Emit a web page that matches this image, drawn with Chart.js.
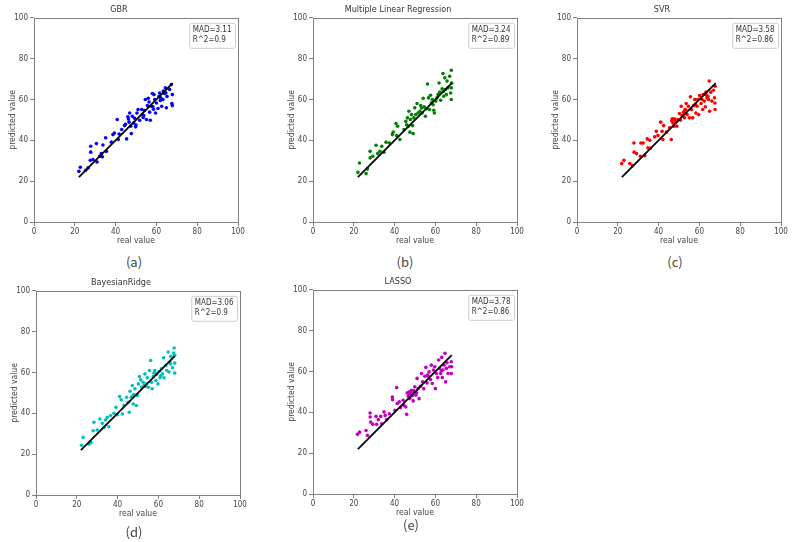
<!DOCTYPE html>
<html>
<head>
<meta charset="utf-8">
<script src="https://cdn.jsdelivr.net/npm/chart.js@4.4.1/dist/chart.umd.min.js"></script>
<style>
  body { margin: 0; background: #fff; width: 793px; height: 542px; overflow: hidden; position: relative; }
  .panel { position: absolute; }
  .cap { position: absolute; font-family: 'Noto Sans CJK JP', sans-serif; font-size: 13px; color: #444; transform: translate(-50%, -50%); white-space: nowrap; }
</style>
</head>
<body>
<canvas id="pa" class="panel" width="250" height="250" style="left:0px;top:0px"></canvas>
<canvas id="pb" class="panel" width="250" height="250" style="left:279px;top:0px"></canvas>
<canvas id="pc" class="panel" width="250" height="250" style="left:543px;top:0px"></canvas>
<canvas id="pd" class="panel" width="250" height="250" style="left:2px;top:273px"></canvas>
<canvas id="pe" class="panel" width="250" height="250" style="left:279px;top:272px"></canvas>
<div class="cap" style="left:134px;top:261px">(a)</div>
<div class="cap" style="left:405px;top:261px">(b)</div>
<div class="cap" style="left:675px;top:261px">(c)</div>
<div class="cap" style="left:134px;top:531px">(d)</div>
<div class="cap" style="left:411px;top:524px">(e)</div>
<script>
// axis ticks
const tickValues = [0, 20, 40, 60, 80, 100];
// reference line y = x
const lineX = [22, 68];
const lineY = [22, 68];

// GBR
const gbrReal = [22, 22.7, 25.3, 26.5, 27.6, 27.8, 27.8, 28.9, 30.6, 30.9, 32.2, 33, 33.8, 35.1, 35.5, 37.9, 38.7, 39.4, 40.8, 41.3,
  41.7, 43, 44.4, 45.4, 46, 46.6, 46.9, 47.4, 47.7, 48.2, 48.9, 49.3, 49.8, 50.5, 51, 51.8, 52.8, 53.1, 53.8, 54.2,
  54.6, 55.1, 55.6, 56, 56.7, 57, 57.5, 58, 58.3, 58.8, 59.2, 59.6, 60, 60.8, 61.3, 61.6, 62.1, 62.6, 63.2, 63.4,
  64, 64.4, 64.9, 65.2, 66.5, 67.3, 67.8, 67.8, 67.6, 46.3, 50, 53.5, 56.4, 61.9, 64.6, 33.5, 44.8, 58.6];
const gbrPred = [24.8, 26.8, 25.3, 26.5, 30.2, 37.1, 34.2, 30.6, 38.4, 29.4, 32.2, 33.5, 37.7, 41.2, 34.6, 39.1, 42.8, 43.6, 50.2, 40.4,
  43.1, 45.3, 47.2, 40.7, 51.5, 48.9, 53.4, 46.9, 43.3, 51.8, 48.5, 50.8, 46.6, 53.4, 55.1, 49.8, 55.1, 52.6, 52.1, 54.6,
  60, 50.2, 57, 60.6, 53.8, 49.8, 56.7, 62.9, 56.4, 62.4, 60, 53.4, 58.3, 55.6, 61.5, 63.2, 60.8, 56.7, 60, 64.1,
  62.9, 65.7, 55.9, 61.5, 64.9, 67.3, 62.4, 57, 58, 50.4, 47.5, 51.2, 58.8, 59.5, 63.3, 31.9, 47.8, 55.2];

// Multiple Linear Regression
const mlrReal = [22, 22.8, 26, 26.7, 28, 28, 29.3, 30.9, 31.7, 32.8, 33.7, 34.8, 35.8, 37.4, 38.9, 39.3, 40.7, 41, 41.5, 42.6,
  44.6, 45.5, 46.3, 46.7, 47, 47.5, 47.8, 48.3, 48.8, 49.1, 49.4, 49.9, 50.4, 51, 51.5, 52.4, 52.8, 53.5, 54, 54.5,
  55.1, 55.6, 56.1, 56.6, 57.1, 57.6, 58, 58.5, 59.2, 59.5, 60.2, 60.8, 61.3, 61.8, 62.1, 62.6, 63.3, 63.7, 64.1, 64.6,
  64.9, 65.4, 65.7, 66.2, 67, 67.8, 67.8, 67.8, 68, 67.5, 45.9, 53.2, 58.9, 63.9];
const mlrPred = [24.3, 28.9, 23.7, 26, 34.6, 31.4, 32.2, 37.6, 33.5, 34.6, 37.1, 34.2, 39.1, 38.7, 42.8, 44, 48.2, 42.3, 46.9, 40.4,
  45.3, 49.3, 51, 46.9, 54.2, 44, 50.2, 52.6, 47.2, 43.3, 51, 55.9, 52.6, 58, 53.4, 54.2, 57, 53.4, 60.6, 56.4,
  51.8, 55.4, 67.6, 60.8, 55.1, 62.1, 58.3, 60, 54.7, 53.4, 59.2, 60.8, 62.4, 68.1, 63.6, 59.6, 65.2, 72.7, 61.6, 70.6,
  64.9, 62.4, 69, 65.7, 71.4, 74.3, 65.7, 60, 68.1, 63.2, 47.6, 55.8, 57.4, 63.9];

// SVR
const svrReal = [21.9, 23, 25.9, 27.2, 27.9, 28, 29.2, 31.1, 31.3, 32.4, 33.2, 34.4, 34.8, 35.7, 36, 38.1, 38.9, 39.7, 41, 41.7,
  42.1, 42.5, 43.8, 45.4, 46.2, 46.7, 47, 47.5, 47.8, 48.3, 48.9, 49.4, 50.2, 50.7, 51.1, 51.5, 52.2, 52.7, 53.2, 53.5,
  54, 54.6, 55.1, 55.6, 56.1, 56.7, 57.2, 57.7, 58.3, 58.8, 59.2, 59.6, 60.1, 60.8, 61.3, 61.6, 61.9, 62.4, 62.9, 63.2,
  63.7, 64.2, 64.5, 64.8, 65, 65.6, 66.1, 66.9, 67.4, 67.7, 67.7, 67.6, 46.4, 48.1, 52.9, 58, 63.5];
const svrPred = [28.6, 30.2, 28.6, 27.6, 38.7, 34.2, 33.5, 32.2, 38.7, 38.7, 32.5, 40.7, 36.3, 40, 36.1, 41.7, 44.4, 42.3, 48.9, 44.4,
  40.4, 47.2, 44, 46.1, 40.4, 50.5, 48.5, 46.9, 50.5, 48.9, 46.9, 50.2, 53.1, 49.8, 56.7, 52.1, 53.8, 51, 55.1, 58,
  52.6, 56.7, 51, 61.3, 55.1, 51, 57, 60, 53.4, 56.7, 60, 52.6, 61.9, 58, 60, 55.1, 62.4, 59.2, 56.4, 63.6,
  60.8, 61.6, 60, 69, 54.2, 63.6, 59.2, 64.5, 60.8, 66.5, 55.1, 58.3, 49.5, 49.9, 54.8, 57.7, 62.1];

// BayesianRidge
const brReal = [22.3, 23.1, 25.9, 27, 28, 28.4, 30, 31.3, 32.5, 33.3, 34.1, 34.9, 35.7, 36.6, 38.2, 39.2, 39.8, 41, 41.8, 42.3,
  43.1, 44.4, 45.2, 45.7, 46.1, 46.7, 47.2, 47.7, 48, 48.5, 49.2, 49.7, 50.2, 50.7, 51.3, 51.8, 52.5, 53, 53.4, 54.1,
  54.6, 55.1, 55.6, 56.2, 56.6, 57, 57.5, 58.2, 58.7, 59.2, 59.8, 60.3, 60.8, 61.5, 62, 62.5, 62.8, 63.6, 64.1, 64.8,
  65.2, 65.7, 66.1, 66.9, 67.7, 68, 68, 68, 67.4, 47.4, 53.6, 57.8, 61.2, 65.9];
const brPred = [24.4, 28.2, 24.9, 25.7, 31.5, 35.6, 31.8, 37.2, 35.1, 33.1, 36.7, 38, 33.4, 38.9, 40, 43, 39.3, 48.2, 46.6, 39.7,
  43.8, 47.9, 45.4, 40.5, 50.8, 47.9, 53.6, 44.6, 49.2, 52, 43.8, 48.7, 54.4, 58, 56.4, 52.8, 55.2, 53.6, 59.3, 54.4,
  57.4, 52.8, 61, 65.9, 55.2, 52, 58, 61, 56.1, 59.3, 54.4, 60.5, 57.4, 61.8, 59.3, 67.2, 57.4, 63.4, 61, 70,
  60.2, 65.1, 67.9, 62.3, 72, 64.6, 59.7, 68.4, 69.5, 48.6, 53.1, 59.8, 58.4, 64.2];

// LASSO
const lassoReal = [21.8, 22.8, 26, 26.7, 28, 28, 28.3, 29.3, 30.9, 31.2, 32, 33.2, 33.7, 34.8, 35.4, 36.1, 37.4, 38.9, 39, 40.2,
  41, 41.3, 42.3, 42.9, 44.2, 44.6, 45.5, 45.9, 46.2, 46.7, 47.2, 47.5, 47.8, 48.3, 48.8, 49.1, 49.4, 49.9, 50.4, 51,
  51.5, 52, 52.7, 53.2, 53.7, 54.3, 54.8, 55.3, 55.9, 56.4, 56.9, 57.6, 58, 58.5, 59, 59.7, 60, 60.5, 61.1, 61.6,
  62.1, 62.6, 63.1, 63.4, 63.7, 64.2, 64.7, 65, 65.4, 65.7, 66.2, 67, 67.8, 67.8, 68, 47, 48.6, 50.8, 56.2, 62.9];
const lassoPred = [29.2, 30.3, 31.1, 28.7, 39.7, 37.7, 35.2, 34.1, 38, 34.1, 36.4, 38, 34.4, 40.2, 38.5, 36.4, 39.3, 47.5, 46.2, 41,
  52.1, 44.3, 45.1, 42.3, 45.9, 43.4, 42.6, 39, 49.5, 47.9, 50, 46.7, 48.9, 50.8, 49.5, 45.6, 50.5, 52.5, 48.4, 56.6,
  51.6, 46.7, 52.8, 59, 54.9, 51.6, 57.7, 62, 54.4, 57.7, 59.8, 56.1, 63.1, 54.1, 60.7, 62.3, 51.6, 59, 57, 65.6,
  61.5, 59, 66.9, 57, 60.7, 63.1, 68.9, 54.9, 61.5, 64.3, 59, 62.3, 64.8, 59, 62.3, 49.2, 48.1, 49.6, 58.3, 60.2];

const FONT = "'Liberation Sans Narrow', 'DejaVu Sans Condensed', 'Liberation Sans', sans-serif";
const AXIS = '#808080';

// frame around the plot area + MAD / R^2 box in the upper right corner
const framePlugin = {
  id: 'frameBox',
  afterDraw(chart, args, opts) {
    const { ctx, chartArea: a } = chart;
    ctx.save();
    ctx.strokeStyle = AXIS;
    ctx.lineWidth = 1;
    ctx.strokeRect(Math.round(a.left) + 0.5, Math.round(a.top) + 0.5, Math.round(a.right - a.left), Math.round(a.bottom - a.top));

    ctx.font = '8px ' + FONT;
    const w = Math.max(ctx.measureText(opts.lines[0]).width, ctx.measureText(opts.lines[1]).width) + 7;
    const h = 25;
    const x = a.right - 3 - w, y = a.top + 5;
    ctx.fillStyle = 'rgba(255,255,255,0.9)';
    ctx.strokeStyle = '#cccccc';
    ctx.beginPath();
    ctx.roundRect(x + 0.5, y + 0.5, w, h, 2);
    ctx.fill();
    ctx.stroke();
    ctx.fillStyle = '#333';
    ctx.textBaseline = 'middle';
    ctx.fillText(opts.lines[0], x + 3.5, y + 7);
    ctx.fillText(opts.lines[1], x + 3.5, y + 17);
    ctx.restore();
  }
};

function axisOpts(label, horizontal) {
  return {
    type: 'linear',
    min: 0,
    max: 100,
    afterBuildTicks: s => { s.ticks = tickValues.map(v => ({ value: v })); },
    afterFit: s => { if (horizontal) s.height = 26; else s.width = 34; },
    grid: { drawOnChartArea: false, drawTicks: true, tickLength: 4, color: AXIS },
    border: { display: false },
    ticks: { color: '#444', font: { family: FONT, size: 8 }, padding: horizontal ? 1 : 2, maxRotation: 0 },
    title: {
      display: true,
      text: label,
      color: '#444',
      font: { family: FONT, size: 8.5 },
      padding: horizontal ? { top: 0, bottom: 2 } : { top: 8, bottom: 0 }
    }
  };
}

function makePanel(id, name, xs, ys, color, mad, r2) {
  new Chart(document.getElementById(id), {
    type: 'scatter',
    data: {
      datasets: [
        {
          data: lineX.map((x, i) => ({ x: x, y: lineY[i] })),
          showLine: true,
          borderColor: '#000',
          borderWidth: 1.8,
          pointRadius: 0
        },
        {
          data: xs.map((x, i) => ({ x: x, y: ys[i] })),
          backgroundColor: color,
          borderWidth: 0,
          pointRadius: 1.8
        }
      ]
    },
    options: {
      responsive: false,
      animation: false,
      layout: { padding: { left: 0, right: 12, top: 0, bottom: 2 } },
      plugins: {
        legend: { display: false },
        tooltip: { enabled: false },
        title: {
          display: true,
          text: name,
          color: '#333',
          font: { family: FONT, size: 9, weight: 'normal' },
          padding: { top: 4, bottom: 3 }
        },
        frameBox: { lines: [mad, r2] }
      },
      scales: {
        x: axisOpts('real value', true),
        y: axisOpts('predicted value', false)
      }
    },
    plugins: [framePlugin]
  });
}

makePanel('pa', 'GBR', gbrReal, gbrPred, '#0000ff', 'MAD=3.11', 'R^2=0.9');
makePanel('pb', 'Multiple Linear Regression', mlrReal, mlrPred, '#008000', 'MAD=3.24', 'R^2=0.89');
makePanel('pc', 'SVR', svrReal, svrPred, '#ff0000', 'MAD=3.58', 'R^2=0.86');
makePanel('pd', 'BayesianRidge', brReal, brPred, '#00bfbf', 'MAD=3.06', 'R^2=0.9');
makePanel('pe', 'LASSO', lassoReal, lassoPred, '#bf00bf', 'MAD=3.78', 'R^2=0.86');
</script>
</body>
</html>
